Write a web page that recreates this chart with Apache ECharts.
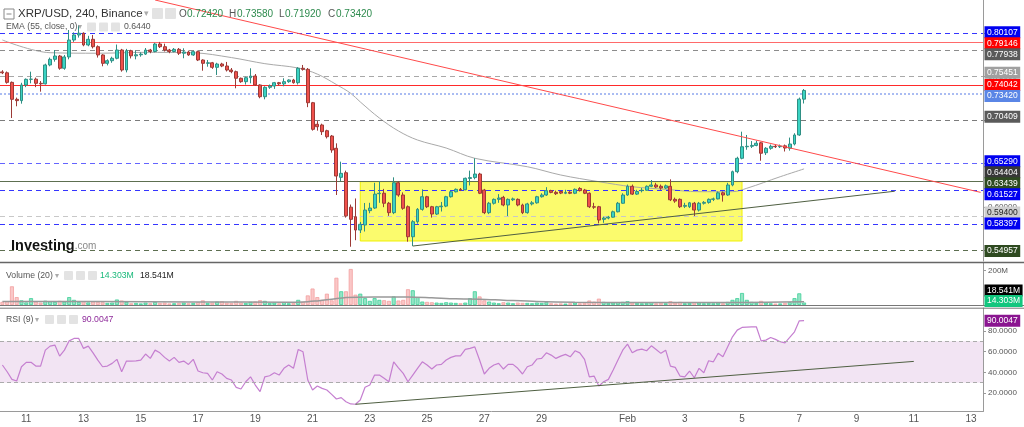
<!DOCTYPE html>
<html><head><meta charset="utf-8">
<script src="https://cdn.jsdelivr.net/npm/echarts/dist/echarts.min.js"></script>
<style>html,body{margin:0;padding:0;background:#fff}#c{width:1024px;height:427px}</style>
</head><body><div id="c"></div>
<script>
// ---------- DATA ----------
// 4h candles [open, close, low, high], slot 0 = Jan 10 04:00
const ohlc = [
[0.7555,0.7545,0.7530,0.7575],[0.7545,0.7435,0.7420,0.7560],[0.7435,0.7240,0.7025,0.7445],[0.7240,0.7225,0.7160,0.7260],
[0.7225,0.7405,0.7190,0.7430],[0.7405,0.7470,0.7380,0.7480],[0.7470,0.7472,0.7424,0.7558],[0.7472,0.7424,0.7380,0.7490],
[0.7424,0.7418,0.7328,0.7450],[0.7418,0.7635,0.7410,0.7650],[0.7635,0.7700,0.7620,0.7720],[0.7700,0.7738,0.7673,0.7807],
[0.7738,0.7597,0.7580,0.7750],[0.7597,0.7727,0.7580,0.7750],[0.7727,0.7922,0.7700,0.8037],[0.7922,0.7980,0.7900,0.8010],
[0.7980,0.8000,0.7950,0.8095],[0.8000,0.7865,0.7850,0.8010],[0.7865,0.7930,0.7850,0.7970],[0.7930,0.7845,0.7825,0.7980],
[0.7845,0.7750,0.7720,0.7860],[0.7750,0.7654,0.7620,0.7760],[0.7654,0.7684,0.7630,0.7700],[0.7684,0.7712,0.7660,0.7730],
[0.7712,0.7807,0.7700,0.7870],[0.7807,0.7577,0.7558,0.7820],[0.7577,0.7799,0.7550,0.7820],[0.7799,0.7740,0.7710,0.7810],
[0.7740,0.7752,0.7700,0.7799],[0.7752,0.7760,0.7730,0.7780],[0.7760,0.7807,0.7750,0.7830],[0.7807,0.7790,0.7770,0.7820],
[0.7790,0.7876,0.7780,0.7890],[0.7876,0.7845,0.7830,0.7900],[0.7845,0.7807,0.7790,0.7880],[0.7807,0.7790,0.7770,0.7820],
[0.7790,0.7815,0.7780,0.7830],[0.7815,0.7770,0.7750,0.7830],[0.7770,0.7784,0.7712,0.7827],[0.7784,0.7750,0.7740,0.7800],
[0.7750,0.7788,0.7740,0.7800],[0.7788,0.7692,0.7680,0.7800],[0.7692,0.7654,0.7569,0.7700],[0.7654,0.7660,0.7615,0.7692],
[0.7660,0.7608,0.7590,0.7670],[0.7608,0.7646,0.7520,0.7660],[0.7646,0.7623,0.7610,0.7660],[0.7623,0.7577,0.7560,0.7670],
[0.7577,0.7558,0.7540,0.7600],[0.7558,0.7482,0.7367,0.7570],[0.7482,0.7443,0.7430,0.7490],[0.7443,0.7489,0.7410,0.7500],
[0.7489,0.7508,0.7424,0.7597],[0.7508,0.7405,0.7395,0.7531],[0.7405,0.7270,0.7252,0.7413],[0.7270,0.7378,0.7240,0.7390],
[0.7378,0.7393,0.7360,0.7410],[0.7393,0.7431,0.7360,0.7440],[0.7431,0.7418,0.7400,0.7440],[0.7418,0.7443,0.7390,0.7482],
[0.7443,0.7462,0.7430,0.7470],[0.7462,0.7431,0.7420,0.7475],[0.7431,0.7597,0.7410,0.7610],[0.7597,0.7585,0.7570,0.7635],
[0.7585,0.7201,0.7150,0.7600],[0.7201,0.6895,0.6880,0.7210],[0.6953,0.6925,0.6880,0.6990],[0.6945,0.6868,0.6830,0.6960],
[0.6879,0.6810,0.6790,0.6890],[0.6818,0.6657,0.6626,0.6830],[0.6677,0.6358,0.6140,0.6734],[0.6343,0.6389,0.6300,0.6523],
[0.6396,0.5900,0.5880,0.6420],[0.6000,0.5860,0.5545,0.6030],[0.5890,0.5737,0.5620,0.6100],[0.5737,0.5803,0.5703,0.5830],
[0.5795,0.5967,0.5720,0.6048],[0.5960,0.5990,0.5930,0.6050],[0.5990,0.6150,0.5980,0.6280],[0.6155,0.6160,0.6050,0.6300],
[0.6160,0.6045,0.6000,0.6210],[0.6045,0.5937,0.5900,0.6060],[0.5937,0.6281,0.5920,0.6343],[0.6281,0.6140,0.6120,0.6300],
[0.6140,0.5987,0.5970,0.6170],[0.6005,0.5660,0.5603,0.6020],[0.5660,0.5833,0.5553,0.5850],[0.5833,0.5975,0.5810,0.5990],
[0.5975,0.6120,0.5960,0.6205],[0.6120,0.6005,0.5990,0.6130],[0.6005,0.5921,0.5880,0.6015],[0.5921,0.6005,0.5910,0.6015],
[0.6005,0.6012,0.5950,0.6060],[0.6012,0.6120,0.6000,0.6130],[0.6120,0.6177,0.6110,0.6190],[0.6177,0.6205,0.6170,0.6215],
[0.6205,0.6200,0.6185,0.6220],[0.6200,0.6332,0.6195,0.6340],[0.6330,0.6340,0.6250,0.6420],[0.6340,0.6381,0.6320,0.6562],
[0.6381,0.6160,0.6150,0.6395],[0.6197,0.5937,0.5920,0.6210],[0.5937,0.6045,0.5920,0.6060],[0.6045,0.6090,0.6030,0.6100],
[0.6090,0.6105,0.6050,0.6150],[0.6113,0.6025,0.6010,0.6130],[0.6025,0.6090,0.5898,0.6100],[0.6085,0.6095,0.6070,0.6110],
[0.6090,0.6025,0.6010,0.6100],[0.6025,0.5937,0.5920,0.6040],[0.5937,0.6037,0.5925,0.6050],[0.6037,0.6050,0.6020,0.6070],
[0.6050,0.6120,0.6040,0.6130],[0.6120,0.6140,0.6110,0.6160],[0.6140,0.6190,0.6130,0.6230],[0.6190,0.6170,0.6160,0.6200],
[0.6170,0.6155,0.6140,0.6190],[0.6180,0.6162,0.6150,0.6190],[0.6160,0.6168,0.6150,0.6200],[0.6172,0.6160,0.6150,0.6185],
[0.6160,0.6205,0.6150,0.6215],[0.6215,0.6190,0.6180,0.6230],[0.6197,0.6160,0.6150,0.6210],[0.6160,0.6005,0.5990,0.6170],
[0.6005,0.6000,0.5980,0.6050],[0.6005,0.5852,0.5814,0.6015],[0.5860,0.5875,0.5820,0.5890],[0.5875,0.5885,0.5860,0.5900],
[0.5885,0.5947,0.5880,0.5960],[0.5947,0.6045,0.5940,0.6060],[0.6045,0.6140,0.6040,0.6160],[0.6140,0.6240,0.6130,0.6260],
[0.6240,0.6150,0.6140,0.6260],[0.6150,0.6180,0.6140,0.6200],[0.6190,0.6195,0.6170,0.6220],[0.6195,0.6240,0.6190,0.6250],
[0.6240,0.6255,0.6230,0.6312],[0.6255,0.6232,0.6220,0.6280],[0.6240,0.6220,0.6200,0.6260],[0.6220,0.6245,0.6210,0.6260],
[0.6240,0.6085,0.6070,0.6320],[0.6090,0.6070,0.6050,0.6110],[0.6090,0.6005,0.5990,0.6100],[0.6010,0.6020,0.5990,0.6050],
[0.6005,0.6050,0.5990,0.6060],[0.6045,0.5967,0.5898,0.6060],[0.5967,0.6045,0.5950,0.6060],[0.6045,0.6055,0.6030,0.6070],
[0.6055,0.6090,0.6040,0.6100],[0.6090,0.6095,0.6070,0.6110],[0.6095,0.6165,0.6090,0.6180],[0.6165,0.6140,0.6064,0.6180],
[0.6140,0.6255,0.6130,0.6280],[0.6255,0.6408,0.6240,0.6420],[0.6408,0.6562,0.6390,0.6580],[0.6562,0.6695,0.6550,0.6868],
[0.6695,0.6700,0.6660,0.6830],[0.6700,0.6710,0.6680,0.6760],[0.6710,0.6735,0.6700,0.6764],[0.6740,0.6620,0.6534,0.6750],
[0.6626,0.6677,0.6600,0.6690],[0.6677,0.6700,0.6660,0.6720],[0.6700,0.6695,0.6680,0.6720],[0.6695,0.6700,0.6680,0.6720],
[0.6705,0.6680,0.6640,0.6720],[0.6677,0.6726,0.6650,0.6800],[0.6726,0.6830,0.6710,0.6850],[0.6830,0.7242,0.6820,0.7260],
[0.7242,0.7342,0.7192,0.7358]
];
// Volume (millions) per candle
const volume = [
18,22,109,46,27,15,40,20,14,25, 22,18,24,20,46,30,18,22,15,20, 18,16,12,14,32,26,18,10,12,9,
14,10,18,12,14,9,10,12,14,10, 12,16,27,12,14,20,22,14,12,24, 14,12,18,20,28,24,12,14,10,16,
10,12,30,18,56,96,46,30,66,27, 159,80,80,210,60,66,40,24,40,30, 28,24,50,26,30,92,86,46,20,18,
16,14,12,16,14,12,10,14,40,80, 50,27,20,14,10,16,14,10,14,12, 12,10,14,12,16,10,8,9,8,10,
14,10,12,26,20,37,18,12,14,16, 18,22,14,12,10,12,16,10,12,10, 22,14,18,10,12,16,14,10,12,10,
14,10,18,30,40,70,30,18,12,24, 14,10,8,9,12,16,40,68,14.303
];
// RSI(9) per candle
const rsi = [
47.1,40.6,33.2,31.6,45.4,49.7,49.7,46.1,46.1,61.5, 65.4,66.4,55.7,61.5,70.5,72.8,72.8,63.2,65.4,58.9,
51.9,45.4,46.1,48.7,52.6,40.6,50.9,50.9,51.2,51.9, 57.7,53.5,61.5,58.9,54.5,50.9,54.5,49.7,50.9,47.7,
52.6,41.3,39.6,39.0,32.6,40.6,38.4,34.2,32.6,25.5, 23.9,30.9,35.7,27.7,21.3,35.7,36.7,39.6,37.4,43.9,
47.1,43.9,62.2,59.9,32.6,22.9,26.8,24.5,22.9,18.7, 14.2,15.5,11.6,9.4,9.1,13.2,25.5,27.7,37.4,37.4,
34.2,30.9,50.2,44.4,39.0,30.9,37.4,43.9,50.2,47.1, 43.2,47.1,47.7,51.9,54.5,56.0,56.0,62.2,63.2,64.7,
51.9,38.4,43.9,47.1,48.7,43.2,47.7,47.7,43.9,38.4, 45.4,47.1,52.9,53.5,58.9,56.7,53.5,55.7,57.4,55.1,
60.9,58.9,52.6,35.7,36.4,26.8,30.9,33.2,42.2,51.9, 61.5,67.3,58.9,61.5,62.5,60.9,65.7,62.2,58.4,61.5,
46.0,44.8,36.4,35.7,41.3,34.8,43.9,39.6,51.2,50.2, 58.4,55.1,64.7,74.4,80.9,83.5,83.8,84.1,84.1,70.5,
71.2,73.8,71.9,69.6,68.6,73.8,79.2,89.9,90.0047
];
// EMA(55) read at sample candles
const emaSlots  = [0,10,20,30,40,48,55,62,66,70,73,75,79,83,87,93,99,110,117,125,132,139,146,153,156,163,168];
const emaValues = [0.7922,0.7776,0.7770,0.7780,0.7775,0.7720,0.7650,0.7600,0.7530,0.7410,0.7309,0.7210,0.7025,0.6876,0.6772,0.6680,0.6562,0.6465,0.6370,0.6293,0.6235,0.6205,0.6178,0.6178,0.6217,0.6350,0.6440];
// Volume MA(20) read at sample candles (millions)
const volMaSlots  = [0,20,40,60,63,66,69,72,78,85,90,95,100,105,112,120,135,150,160,168];
const volMaValues = [21,20,18,16,17,24,33,44,47,47,42,36,34,28,20,16,15,14,16,18.541];
// Drawn trend lines (candle slot, value)
const redTrendSlots = [32,205],   redTrendValues = [0.8382,0.6170];
const supTrendSlots = [86,187],   supTrendValues = [0.5553,0.6183];
const rsiTrendSlots = [74,191],   rsiTrendValues = [9.1,50.6];
// Consolidation box
const boxSlots = [75,155], boxPrices = [0.6293,0.5611];
// Horizontal price levels
const levelPrices = [0.80107,0.79146,0.77938,0.75451,0.74042,0.73420,0.70409,0.65290,0.63439,0.61527,0.59400,0.58397,0.54957];
const emaLast = 0.64404;
const volLast = 14.303, volMaLast = 18.541, rsiLast = 90.0047;
// Axis ticks
const priceTicks = [0.55,0.60,0.65,0.70,0.75,0.80];
const rsiTicks = [20,40,60,80];
const volTicks = [200];
const tickDays   = [11,13,15,17,19,21,23,25,27,29,32,34,36,38,40,42,44];
const tickLabels = ['11','13','15','17','19','21','23','25','27','29','Feb','3','5','7','9','11','13'];

// ---------- BUILD ----------
const NSLOT = 206;
const cats = [];
for (let i = 0; i < NSLOT; i++) {
  cats.push(new Date(Date.UTC(2022,0,10,4) + i*4*3600e3).toISOString().slice(0,13));
}
const tickMap = {};
tickDays.forEach((d,i)=>{ tickMap[cats[5 + (d-11)*6]] = tickLabels[i]; });
const showTick = (idx, val) => tickMap[val] !== undefined;

const BLUE = '#3535ff';
const levelStyle = [
 {c:BLUE,t:[5,4],bg:'#0000f0',fg:'#fff'},
 {c:'#ff6a6a',t:'solid',bg:'#ff0000',fg:'#fff'},
 {c:'#8c8c8c',t:[5,4],bg:'#5a5a5a',fg:'#fff'},
 {c:'#a8a8a8',t:[5,4],bg:'#a0a0a0',fg:'#fff'},
 {c:'#ff2a2a',t:'solid',bg:'#ff0000',fg:'#fff'},
 {c:'#aabcf2',t:'dotted',w:2,bg:'#5a86e6',fg:'#fff'},
 {c:'#7c7c7c',t:[5,4],bg:'#5a5a5a',fg:'#fff'},
 {c:'#6464ff',t:[5,4],bg:'#0000f0',fg:'#fff'},
 {c:'#5d6f50',t:'solid',bg:'#2e4a20',fg:'#fff'},
 {c:BLUE,t:[5,4],bg:'#0000f0',fg:'#fff'},
 {c:'#c8c8c8',t:[5,4],bg:'#cfcfcf',fg:'#222'},
 {c:BLUE,t:[5,4],bg:'#0000f0',fg:'#fff'},
 {c:'#5d6f50',t:[5,4],bg:'#2e4a20',fg:'#fff'}
];

const UP='#3ad3c3', DN='#f0504b';
const candleData = ohlc.map(r => [r[0], r[1], r[2], r[3]]);
const volData = volume.map((v,i) => {
  const up = ohlc[i][1] >= ohlc[i][0];
  return {value: v*1e6, itemStyle:{color: up?'rgba(60,205,150,0.55)':'rgba(245,130,130,0.45)', borderColor: up?'#3ccf98':'#f3a0a0', borderWidth:0.8}};
});
const pairs = (xs, ys, k=1) => xs.map((x,i)=>[x, ys[i]*k]);

const grids = [
  {left:0, right:41, top:0, height:261},
  {left:0, right:41, top:263, height:42},
  {left:0, right:41, top:308, height:103.5}
];
const hiddenX = g => ({type:'category', gridIndex:g, data:cats, boundaryGap:true, axisLine:{show:false}, axisTick:{show:false}, axisLabel:{show:false}, splitLine:{show:false}});
const FONT = '"Liberation Sans", Arial, sans-serif';

const chart = echarts.init(document.getElementById('c'), null, {renderer:'canvas'});
chart.setOption({
  animation:false,
  backgroundColor:'#fff',
  grid: grids,
  xAxis: [hiddenX(0), hiddenX(1), {
    type:'category', gridIndex:2, data:cats, boundaryGap:true,
    axisLine:{lineStyle:{color:'#9a9a9a'}},
    axisTick:{interval:showTick, alignWithLabel:true, length:3, lineStyle:{color:'#9a9a9a'}},
    axisLabel:{interval:showTick, formatter:v=>tickMap[v]||'', color:'#555', fontSize:10, margin:3, fontFamily:FONT},
    splitLine:{show:false}
  }],
  yAxis: [
    {type:'value', gridIndex:0, position:'right', min:0.5381, max:0.8382, scale:true,
     axisLine:{show:true, lineStyle:{color:'#9a9a9a'}}, axisTick:{show:true, length:3, customValues:priceTicks, lineStyle:{color:'#9a9a9a'}},
     axisLabel:{customValues:priceTicks, formatter:v=>v.toFixed(5), color:'#555', fontSize:8, margin:5, fontFamily:FONT},
     splitLine:{show:false}},
    {type:'value', gridIndex:1, position:'right', min:0, max:245e6,
     axisLine:{show:true, lineStyle:{color:'#9a9a9a'}}, axisTick:{show:true, length:3, customValues:volTicks.map(v=>v*1e6), lineStyle:{color:'#9a9a9a'}},
     axisLabel:{customValues:volTicks.map(v=>v*1e6), formatter:v=>(v/1e6)+'M', color:'#555', fontSize:8, margin:5, fontFamily:FONT},
     splitLine:{show:false}},
    {type:'value', gridIndex:2, position:'right', min:2.1, max:102.3,
     axisLine:{show:true, lineStyle:{color:'#9a9a9a'}}, axisTick:{show:true, length:3, customValues:rsiTicks, lineStyle:{color:'#9a9a9a'}},
     axisLabel:{customValues:rsiTicks, formatter:v=>v.toFixed(4), color:'#555', fontSize:8, margin:5, fontFamily:FONT},
     splitLine:{show:false}}
  ],
  series: [
    {name:'levels', type:'line', xAxisIndex:0, yAxisIndex:0, data:[], z:1, silent:true,
     markArea:{silent:true, itemStyle:{color:'rgba(250,250,60,0.75)', borderColor:'#f0f000', borderWidth:1},
       data:[[{xAxis:boxSlots[0], yAxis:boxPrices[0]},{xAxis:boxSlots[1], yAxis:boxPrices[1]}]]},
     markLine:{silent:true, symbol:['none','none'], label:{show:false},
       data: levelPrices.map((v,i)=>({yAxis:v, lineStyle:{color:levelStyle[i].c, type:levelStyle[i].t, width:levelStyle[i].w||1.2, opacity:1}}))}
    },
    {name:'EMA', type:'line', xAxisIndex:0, yAxisIndex:0, data:pairs(emaSlots, emaValues), smooth:0.35, showSymbol:false, symbol:'none',
     lineStyle:{color:'#a9a9a9', width:1}, z:2},
    {name:'XRP', type:'candlestick', xAxisIndex:0, yAxisIndex:0, data:candleData, barWidth:3.4, z:5,
     itemStyle:{color:UP, color0:DN, borderColor:'#2f8f84', borderColor0:'#9c3a36', borderWidth:1}},
    {name:'resist', type:'line', xAxisIndex:0, yAxisIndex:0, data:pairs(redTrendSlots, redTrendValues), symbol:'none', lineStyle:{color:'#ff4a4a', width:1}, z:6},
    {name:'support', type:'line', xAxisIndex:0, yAxisIndex:0, data:pairs(supTrendSlots, supTrendValues), symbol:'none', lineStyle:{color:'#4f5f42', width:1}, z:6},
    {name:'Volume', type:'bar', xAxisIndex:1, yAxisIndex:1, data:volData, barWidth:4, z:3},
    {name:'VolMA', type:'line', xAxisIndex:1, yAxisIndex:1, data:pairs(volMaSlots, volMaValues, 1e6), smooth:0.3, symbol:'none', lineStyle:{color:'#999', width:1.5}, z:4},
    {name:'RSI', type:'line', xAxisIndex:2, yAxisIndex:2, data:rsi, symbol:'none', lineStyle:{color:'#c57fd0', width:1.2}, z:4,
     markArea:{silent:true, itemStyle:{color:'#f2e4f3'}, data:[[{yAxis:70},{yAxis:30}]]},
     markLine:{silent:true, symbol:['none','none'], label:{show:false}, lineStyle:{color:'#ababab', type:[4,3], width:1}, data:[{yAxis:70},{yAxis:30}]}
    },
    {name:'rsiTrend', type:'line', xAxisIndex:2, yAxisIndex:2, data:pairs(rsiTrendSlots, rsiTrendValues), symbol:'none', lineStyle:{color:'#4f5f42', width:1}, z:5}
  ]
});

// ---------- overlay graphics ----------
function stack(items, h, hi) {
  items.sort((a,b)=>a.y-b.y);
  for (let i=1;i<items.length;i++) if (items[i].y < items[i-1].y + h) items[i].y = items[i-1].y + h;
  if (items.length && items[items.length-1].y > hi) {
    items[items.length-1].y = hi;
    for (let i=items.length-2;i>=0;i--) if (items[i].y > items[i+1].y - h) items[i].y = items[i+1].y - h;
  }
}
const LH = 11;
const tag = (t, y, bg, fg) => ({type:'text', x:984.5, y:y, z:200,
  style:{text:t, fill:fg, font:'8.5px '+FONT, backgroundColor:bg, padding:[1.5,2.5,1.5,2.5], verticalAlign:'middle', align:'left'}});

const priceItems = levelPrices.map((v,i)=>({t:v.toFixed(5), y:chart.convertToPixel({yAxisIndex:0}, v), bg:levelStyle[i].bg, fg:levelStyle[i].fg}));
priceItems.push({t:emaLast.toFixed(5), y:chart.convertToPixel({yAxisIndex:0}, emaLast), bg:'#383838', fg:'#fff'});
stack(priceItems, LH, 255);
const volItems = [
  {t:volMaLast.toFixed(3)+'M', y:chart.convertToPixel({yAxisIndex:1}, volMaLast*1e6), bg:'#000', fg:'#fff'},
  {t:volLast.toFixed(3)+'M', y:chart.convertToPixel({yAxisIndex:1}, volLast*1e6), bg:'#12c67e', fg:'#fff'}
];
stack(volItems, LH-0.5, 301);
const rsiY = chart.convertToPixel({yAxisIndex:2}, rsiLast);

const T = (t,x,y,fill,size) => ({type:'text', x, y, z:150, style:{text:t, fill, font:size+'px '+FONT, verticalAlign:'middle', align:'left'}});
const TD = (t,x,y,size) => ({type:'text', x, y, z:150, style:{text:t, fill:'#aaa', font:size+'px "DejaVu Sans"', verticalAlign:'middle', align:'left'}});
const box = (x,y,w,h) => ({type:'rect', z:150, shape:{x,y,width:w,height:h,r:1}, style:{fill:'#e3e3e3'}});
const hl = (y,x1,x2,c,w) => ({type:'line', z:160, shape:{x1,y1:y,x2,y2:y}, style:{stroke:c, lineWidth:w}});
const GREEN = '#2e8b4e';

const graphics = [
  // panel separators
  hl(262.5,0,1024,'#666',1.5), hl(305.5,0,1024,'#777',1), hl(308.2,0,1024,'#777',1),
  // header
  {type:'rect', z:150, shape:{x:4,y:9,width:10,height:10}, style:{fill:'#fff', stroke:'#888', lineWidth:1}},
  hl(14,6.5,11.5,'#888',1),
  T('XRP/USD, 240, Binance', 18, 14, '#333', 11.5),
  TD('▾', 144, 14, 9),
  box(152,8,11,11), box(165,8,11,11),
  T('O', 179, 14, '#555', 10), T('0.72420', 187, 14, GREEN, 10),
  T('H', 229, 14, '#555', 10), T('0.73580', 237, 14, GREEN, 10),
  T('L', 279, 14, '#555', 10), T('0.71920', 285, 14, GREEN, 10),
  T('C', 328, 14, '#555', 10), T('0.73420', 336, 14, GREEN, 10),
  T('EMA (55, close, 0)', 6, 27, '#555', 8.7),
  TD('▾', 78, 27, 8),
  box(87,22.5,9,9), box(99,22.5,9,9), box(111,22.5,9,9),
  T('0.6440', 124, 27, '#555', 8.7),
  // logo
  {type:'text', x:11, y:246, z:150, style:{text:'{a|Investing}{b|.com}', verticalAlign:'middle',
    rich:{a:{fill:'#111', font:'bold 14.5px '+FONT}, b:{fill:'#8a8a8a', font:'10px '+FONT}}}},
  // volume header
  T('Volume (20)', 6, 275.5, '#555', 8.7),
  TD('▾', 55, 275.5, 8),
  box(64,271,9,9), box(76,271,9,9), box(88,271,9,9),
  T(volLast.toFixed(3)+'M', 100, 275.5, '#19b97a', 8.7),
  T(volMaLast.toFixed(3)+'M', 140, 275.5, '#222', 8.7),
  // rsi header
  T('RSI (9)', 6, 319.5, '#555', 8.7),
  TD('▾', 35, 319.5, 8),
  box(45,315,9,9), box(57,315,9,9), box(69,315,9,9),
  T(rsiLast.toFixed(4), 82, 319.5, '#8e2a9a', 8.7)
];
priceItems.forEach(it => graphics.push(tag(it.t, it.y, it.bg, it.fg)));
volItems.forEach(it => graphics.push(tag(it.t, it.y, it.bg, it.fg)));
graphics.push(tag(rsiLast.toFixed(4), rsiY, '#8a1590', '#fff'));
chart.setOption({graphic: graphics});
</script></body></html>
